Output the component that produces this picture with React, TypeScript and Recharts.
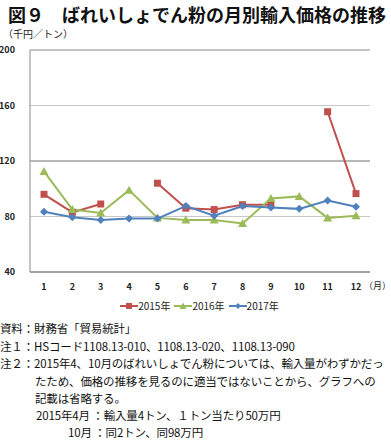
import React from "react";
import {
  LineChart,
  Line,
  XAxis,
  YAxis,
  CartesianGrid,
  ReferenceLine,
} from "recharts";

const months = ["1", "2", "3", "4", "5", "6", "7", "8", "9", "10", "11", "12"];
const y2015 = [96, 83, 89, null, 104, 86, 85, 88.5, 88.5, null, 155.5, 96.5];
const y2016 = [112.5, 85, 82.5, 99, 79, 77.5, 77.5, 75, 93, 94.5, 79, 80.5];
const y2017 = [83.5, 79.5, 77.5, 78.5, 78.5, 87.5, 80.5, 87.5, 86.5, 85.5, 91.5, 87];
const yTicks = [40, 80, 120, 160, 200];

const RED = "#c0504d";
const GREEN = "#9bbb59";
const BLUE = "#4f81bd";
const FONT = "'Noto Sans CJK JP', 'Noto Sans', sans-serif";

const data = months.map((m, i) => ({
  month: m,
  y2015: y2015[i],
  y2016: y2016[i],
  y2017: y2017[i],
}));

function Square(props: any) {
  const { cx, cy, value } = props;
  if (value == null || cx == null) return null;
  return <rect x={cx - 3.5} y={cy - 3.5} width={7} height={7} fill={RED} />;
}

function Triangle(props: any) {
  const { cx, cy, value } = props;
  if (value == null || cx == null) return null;
  return <path d={`M${cx},${cy - 4.5} L${cx + 4.5},${cy + 3.5} L${cx - 4.5},${cy + 3.5} Z`} fill={GREEN} />;
}

function Diamond(props: any) {
  const { cx, cy, value } = props;
  if (value == null || cx == null) return null;
  return <path d={`M${cx},${cy - 4} L${cx + 4},${cy} L${cx},${cy + 4} L${cx - 4},${cy} Z`} fill={BLUE} />;
}

function LegendItem({ color, label, shape }: { color: string; label: string; shape: string }) {
  return (
    <span style={{ display: "inline-flex", alignItems: "center", marginRight: 4 }}>
      <svg width={18} height={10}>
        <line x1={0} y1={5} x2={18} y2={5} stroke={color} strokeWidth={2} />
        {shape === "square" && <rect x={6} y={2} width={6} height={6} fill={color} />}
        {shape === "triangle" && <path d="M9,1.5 L12.5,8 L5.5,8 Z" fill={color} />}
        {shape === "diamond" && <path d="M9,2 L12,5 L9,8 L6,5 Z" fill={color} />}
      </svg>
      <span>{label}</span>
    </span>
  );
}

const noteStyle: React.CSSProperties = {
  position: "absolute",
  fontSize: 11.5,
  lineHeight: "12px",
  whiteSpace: "nowrap",
  color: "#111",
  letterSpacing: -0.15,
};

export default function App() {
  return (
    <div
      style={{
        position: "absolute",
        left: 0,
        top: 0,
        width: 391,
        height: 441,
        background: "#fff",
        fontFamily: FONT,
        overflow: "hidden",
      }}
    >
      <div
        style={{
          position: "absolute",
          left: 8,
          top: 2,
          fontSize: 18,
          fontWeight: 700,
          lineHeight: "24px",
          whiteSpace: "nowrap",
          color: "#111",
        }}
      >
        図９　ばれいしょでん粉の月別輸入価格の推移
      </div>
      <div style={{ position: "absolute", left: 3, top: 27, fontSize: 10, lineHeight: "14px", color: "#222" }}>
        （千円／トン）
      </div>

      <div style={{ position: "absolute", left: 0, top: 0 }}>
        <LineChart width={391} height={300} data={data} margin={{ top: 50, right: 21, left: 0, bottom: 8 }}>
          <CartesianGrid vertical={false} stroke="#c8c8c8" strokeWidth={1} />
          <ReferenceLine y={120} stroke="#8c8c8c" strokeWidth={1} />
          <ReferenceLine y={200} stroke="#a6a6a6" strokeWidth={1} />
          <XAxis
            dataKey="month"
            height={20}
            padding={{ left: 14, right: 14 }}
            axisLine={{ stroke: "#8c8c8c", strokeWidth: 1.5 }}
            tickLine={false}
            tick={{ fontSize: 9, fill: "#222", fontWeight: 600, fontFamily: FONT }}
            tickMargin={6}
          />
          <YAxis
            domain={[40, 200]}
            ticks={yTicks}
            width={30}
            axisLine={{ stroke: "#8c8c8c", strokeWidth: 1 }}
            tickLine={false}
            tick={{ fontSize: 9, fill: "#222", fontWeight: 600, fontFamily: FONT }}
            tickMargin={9}
          />
          <Line
            dataKey="y2015"
            stroke={RED}
            strokeWidth={2}
            dot={<Square />}
            activeDot={false}
            connectNulls={false}
            isAnimationActive={false}
          />
          <Line
            dataKey="y2016"
            stroke={GREEN}
            strokeWidth={2}
            dot={<Triangle />}
            activeDot={false}
            isAnimationActive={false}
          />
          <Line
            dataKey="y2017"
            stroke={BLUE}
            strokeWidth={2}
            dot={<Diamond />}
            activeDot={false}
            isAnimationActive={false}
          />
        </LineChart>
      </div>

      <div style={{ position: "absolute", left: 364, top: 280, fontSize: 9, lineHeight: "12px", color: "#222" }}>
        （月）
      </div>

      <div
        style={{
          position: "absolute",
          left: 0,
          width: 391,
          top: 299,
          display: "flex",
          justifyContent: "center",
          fontSize: 10,
          lineHeight: "14px",
          color: "#222",
          paddingLeft: 12,
          boxSizing: "border-box",
        }}
      >
        <LegendItem color={RED} label="2015年" shape="square" />
        <LegendItem color={GREEN} label="2016年" shape="triangle" />
        <LegendItem color={BLUE} label="2017年" shape="diamond" />
      </div>

      <div style={{ ...noteStyle, left: 0, top: 322 }}>資料：財務省「貿易統計」</div>
      <div style={{ ...noteStyle, left: 0, top: 340 }}>注１：HSコード1108.13-010、1108.13-020、1108.13-090</div>
      <div style={{ ...noteStyle, left: 0, top: 357 }}>注２：2015年4、10月のばれいしょでん粉については、輸入量がわずかだっ</div>
      <div style={{ ...noteStyle, left: 35, top: 375 }}>たため、価格の推移を見るのに適当ではないことから、グラフへの</div>
      <div style={{ ...noteStyle, left: 35, top: 392 }}>記載は省略する。</div>
      <div style={{ ...noteStyle, left: 36, top: 409 }}>2015年4月 ：輸入量4トン、１トン当たり50万円</div>
      <div style={{ ...noteStyle, left: 68, top: 426 }}>10月 ：同2トン、同98万円</div>
    </div>
  );
}
